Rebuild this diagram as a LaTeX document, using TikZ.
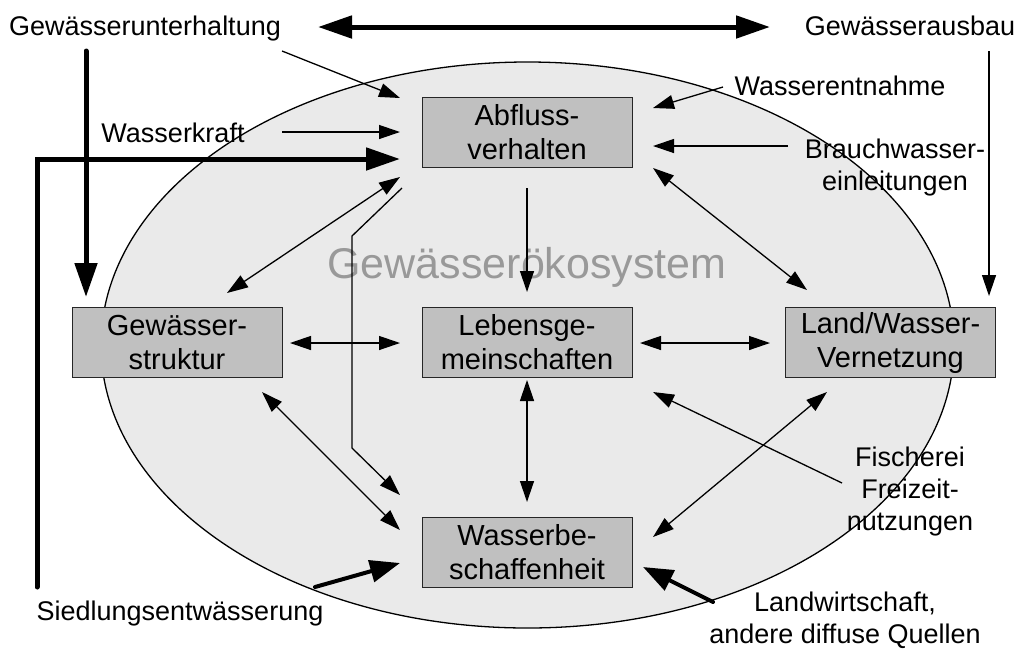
\documentclass[tikz,border=0pt]{standalone}
\usepackage{fontspec}
\setmainfont{Liberation Sans}
\usetikzlibrary{arrows.meta}
\definecolor{ellfill}{RGB}{234,234,234}
\definecolor{boxfill}{RGB}{192,192,192}
\definecolor{ecotext}{RGB}{153,153,153}
\begin{document}
\begin{tikzpicture}[x=1pt,y=-1pt,
  box/.style={draw=black!85, line width=1pt, fill=boxfill, minimum width=210pt, minimum height=70pt, inner sep=0pt, align=center, font=\fontsize{29}{34}\selectfont},
  lbl/.style={inner sep=0pt, align=center, font=\fontsize{27}{32}\selectfont},
  thinarr/.style={line width=1.3pt, -{Triangle[length=21pt,width=14pt]}},
  thinboth/.style={line width=1.3pt, {Triangle[length=21pt,width=14pt]}-{Triangle[length=21pt,width=14pt]}},
  thickarr/.style={line width=5pt, line cap=round, -{Triangle[length=34pt,width=22pt]}},
  thickboth/.style={line width=5pt, {Triangle[length=34pt,width=22pt]}-{Triangle[length=34pt,width=22pt]}},
  medarr/.style={line width=4pt, line cap=round, -{Triangle[length=30pt,width=22pt]}}]
\useasboundingbox (0,0) rectangle (1019,649);
% ecosystem ellipse
\draw[fill=ellfill, line width=1.3pt] (527.5,345) ellipse [x radius=426.5pt, y radius=283pt];
\node[anchor=base, text=ecotext, font=\fontsize{43}{43}\selectfont, inner sep=0pt] (eco) at (527,278) {Gewässerökosystem};
% boxes
\node[box] (abf) at (527,132) {Abfluss-\\verhalten};
\node[box] (gst) at (177,342.5) {Gewässer-\\struktur};
\node[box] (leb) at (527,342.5) {Lebensge-\\meinschaften};
\node[box] (lwv) at (890.5,342.5) {Land/Wasser-\\Vernetzung};
\node[box] (wbs) at (527,552) {Wasserbe-\\schaffenheit};
% labels
\node[lbl, anchor=base] (gu) at (145,35) {Gewässerunterhaltung};
\node[lbl, anchor=base] (ga) at (910,35) {Gewässerausbau};
\node[lbl, anchor=base] (wk) at (173,142) {Wasserkraft};
\node[lbl, anchor=base] (we) at (840,95) {Wasserentnahme};
\node[lbl, anchor=north] (bw) at (895,138.5) {Brauchwasser-\\einleitungen};
\node[lbl, anchor=north] (fi) at (910,447) {Fischerei\\Freizeit-\\nutzungen};
\node[lbl, anchor=base] (sd) at (180,620) {Siedlungsentwässerung};
\node[lbl, anchor=north] (lw) at (845,592) {Landwirtschaft,\\andere diffuse Quellen};
% coordinates
\coordinate (top1) at (318,27); \coordinate (top2) at (770,27);
\coordinate (gu1) at (86,51); \coordinate (gu2) at (86,297);
\coordinate (sd1) at (37,587); \coordinate (sd3) at (400,159);
\coordinate (gua) at (282,51); \coordinate (gub) at (400,98);
\coordinate (wka) at (282,132); \coordinate (wkb) at (400,132);
\coordinate (wea) at (723,87); \coordinate (web) at (653,108);
\coordinate (bwa) at (788,146); \coordinate (bwb) at (653,146);
\coordinate (al1) at (653,168); \coordinate (al2) at (807,290);
\coordinate (ag1) at (400,177); \coordinate (ag2) at (227,293);
\coordinate (ae1) at (527,188); \coordinate (ae2) at (527,292);
\coordinate (pw1) at (402,188); \coordinate (pw2) at (352,236); \coordinate (pw3) at (352,448); \coordinate (pw4) at (400,495);
\coordinate (gl1) at (290,343); \coordinate (gl2) at (400,343);
\coordinate (ll1) at (640,343); \coordinate (ll2) at (770,343);
\coordinate (gw1) at (262,392); \coordinate (gw2) at (400,530);
\coordinate (lb1) at (527,380); \coordinate (lb2) at (527,502);
\coordinate (fia) at (842,483); \coordinate (fib) at (653,392);
\coordinate (lv1) at (827,392); \coordinate (lv2) at (653,537);
\coordinate (lwa) at (713,602); \coordinate (lwb) at (643,567);
\coordinate (sda) at (315,587); \coordinate (sdb) at (400,563);
\coordinate (gaa) at (989,51); \coordinate (gab) at (989,296);
% connectors
\draw[thickboth] (top1) -- (top2);
\draw[thickarr] (gu1) -- (gu2);
\draw[thickarr] (sd1) |- (sd3);
\draw[thinarr] (gua) -- (gub);
\draw[thinarr] (wka) -- (wkb);
\draw[thinarr] (wea) -- (web);
\draw[thinarr] (bwa) -- (bwb);
\draw[thinboth] (al1) -- (al2);
\draw[thinboth] (ag1) -- (ag2);
\draw[thinarr] (ae1) -- (ae2);
\draw[thinarr] (pw1) -- (pw2) -- (pw3) -- (pw4);
\draw[thinboth] (gl1) -- (gl2);
\draw[thinboth] (ll1) -- (ll2);
\draw[thinboth] (gw1) -- (gw2);
\draw[thinboth] (lb1) -- (lb2);
\draw[thinarr] (fia) -- (fib);
\draw[thinboth] (lv1) -- (lv2);
\draw[medarr] (lwa) -- (lwb);
\draw[medarr] (sda) -- (sdb);
\draw[thinarr] (gaa) -- (gab);
\end{tikzpicture}
\end{document}
